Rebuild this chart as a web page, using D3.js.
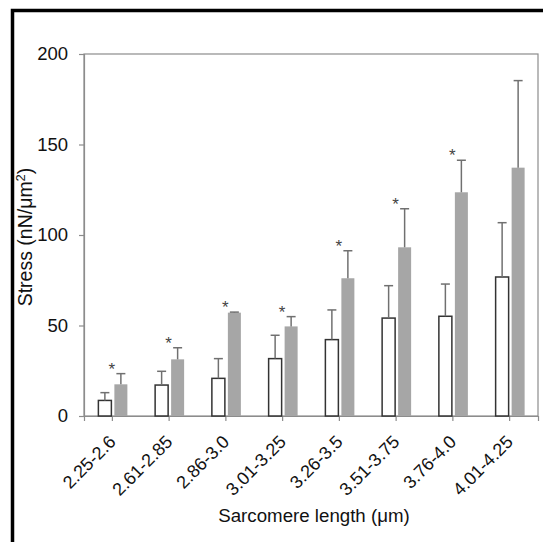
<!DOCTYPE html>
<html>
<head>
<meta charset="utf-8">
<script src="https://cdn.jsdelivr.net/npm/d3@7"></script>
<style>
  body { margin: 0; background: #fff; }
  svg { display: block; font-family: "Liberation Sans", Arial, sans-serif; }
</style>
</head>
<body>
<svg id="chart" width="543" height="542"></svg>
<script>
// Sarcomere length bins
const categories = ["2.25-2.6", "2.61-2.85", "2.86-3.0", "3.01-3.25", "3.26-3.5", "3.51-3.75", "3.76-4.0", "4.01-4.25"];
// White bars (mean, SD)
const whiteMeans = [8.6, 17.1, 20.8, 31.7, 42.2, 54.1, 55.1, 76.8];
const whiteErrs  = [4.3, 7.6, 10.9, 12.9, 16.4, 17.9, 17.8, 30.0];
// Grey bars (mean, SD)
const greyMeans  = [17.5, 31.3, 57.1, 49.5, 76.1, 93.2, 123.6, 137.2];
const greyErrs   = [5.9, 6.4, 0.3, 5.4, 15.2, 21.3, 17.7, 48.1];
// Significance marks
const stars = [true, true, true, true, true, true, true, false];
const yTicks = [0, 50, 100, 150, 200];

const svg = d3.select("#chart"),
      margin = {top: 54, right: 5, bottom: 126, left: 84},
      width = +svg.attr("width"),
      height = +svg.attr("height");

const data = categories.map((c, i) => ({
    cat: c,
    white: whiteMeans[i], whiteErr: whiteErrs[i],
    grey: greyMeans[i], greyErr: greyErrs[i],
    star: stars[i]
}));

const x = d3.scaleBand()
    .domain(categories)
    .range([margin.left, width - margin.right]);

const y = d3.scaleLinear()
    .domain([0, 200])
    .range([height - margin.bottom, margin.top]);

// outer frame (top and left)
svg.append("path")
    .attr("d", `M12.5,${height} V10.5 H${width}`)
    .attr("fill", "none")
    .attr("stroke", "#000")
    .attr("stroke-width", 3.5);

// plot box
svg.append("rect")
    .attr("x", margin.left)
    .attr("y", margin.top)
    .attr("width", width - margin.right - margin.left)
    .attr("height", height - margin.bottom - margin.top)
    .attr("fill", "none")
    .attr("stroke", "#8c8c8c")
    .attr("stroke-width", 1.2);

// y axis
const yAxis = svg.append("g")
    .attr("transform", `translate(${margin.left},0)`)
    .call(d3.axisLeft(y).tickValues(yTicks).tickSize(5).tickPadding(11));
yAxis.select(".domain").attr("stroke", "#8c8c8c").attr("stroke-width", 1.2);
yAxis.selectAll(".tick line").attr("stroke", "#8c8c8c").attr("stroke-width", 1.2);
yAxis.selectAll(".tick text")
    .attr("font-size", "18.5px")
    .attr("font-family", "Liberation Sans, Arial, sans-serif")
    .attr("fill", "#111");

// x axis
const xAxis = svg.append("g")
    .attr("transform", `translate(0,${height - margin.bottom})`)
    .call(d3.axisBottom(x).tickSize(5).tickSizeOuter(5));
xAxis.select(".domain").attr("stroke", "#8c8c8c").attr("stroke-width", 1.2);
xAxis.selectAll(".tick line").attr("stroke", "#8c8c8c").attr("stroke-width", 1.2);
xAxis.selectAll(".tick text")
    .attr("font-size", "18px")
    .attr("font-family", "Liberation Sans, Arial, sans-serif")
    .attr("fill", "#111")
    .attr("text-anchor", "end")
    .attr("dy", null)
    .attr("y", 0)
    .attr("transform", "translate(4.5,27) rotate(-45)");

const bw = 13;
const cx = d => x(d.cat) + x.bandwidth() / 2;

// white bars
svg.append("g").selectAll("rect")
    .data(data)
    .join("rect")
    .attr("x", d => cx(d) - 14)
    .attr("y", d => y(d.white))
    .attr("width", bw)
    .attr("height", d => y(0) - y(d.white))
    .attr("fill", "#fff")
    .attr("stroke", "#333")
    .attr("stroke-width", 1.5);

// grey bars
svg.append("g").selectAll("rect")
    .data(data)
    .join("rect")
    .attr("x", d => cx(d) + 2)
    .attr("y", d => y(d.grey))
    .attr("width", bw)
    .attr("height", d => y(0) - y(d.grey))
    .attr("fill", "#a6a6a6");

// error bars (upper only)
function errorBars(key, errKey, off) {
    const g = svg.append("g").attr("stroke", "#707070").attr("stroke-width", 1.5);
    g.selectAll("line.v")
        .data(data)
        .join("line")
        .attr("x1", d => cx(d) + off)
        .attr("x2", d => cx(d) + off)
        .attr("y1", d => y(d[key]))
        .attr("y2", d => y(d[key] + d[errKey]));
    g.selectAll("line.h")
        .data(data)
        .join("line")
        .attr("x1", d => cx(d) + off - 4.5)
        .attr("x2", d => cx(d) + off + 4.5)
        .attr("y1", d => y(d[key] + d[errKey]))
        .attr("y2", d => y(d[key] + d[errKey]));
}
errorBars("white", "whiteErr", -7.5);
errorBars("grey", "greyErr", 8.5);

// stars
svg.append("g").selectAll("text")
    .data(data.filter(d => d.star))
    .join("text")
    .attr("x", d => cx(d) - 0.5)
    .attr("y", d => y(d.grey + d.greyErr) + 1)
    .attr("text-anchor", "middle")
    .attr("font-size", "17px")
    .attr("fill", "#444")
    .text("*");

// axis titles
svg.append("text")
    .attr("x", (margin.left + width - margin.right) / 2 + 3)
    .attr("y", 522)
    .attr("text-anchor", "middle")
    .attr("font-size", "18.7px")
    .attr("fill", "#111")
    .text("Sarcomere length (\u03bcm)");

svg.append("text")
    .attr("transform", `translate(32,${(margin.top + height - margin.bottom) / 2 + 2}) rotate(-90)`)
    .attr("text-anchor", "middle")
    .attr("font-size", "19.5px")
    .attr("fill", "#111")
    .html("Stress (nN/\u03bcm<tspan dy='-7' font-size='13px'>2</tspan><tspan dy='7'>)</tspan>");
</script>
</body>
</html>
